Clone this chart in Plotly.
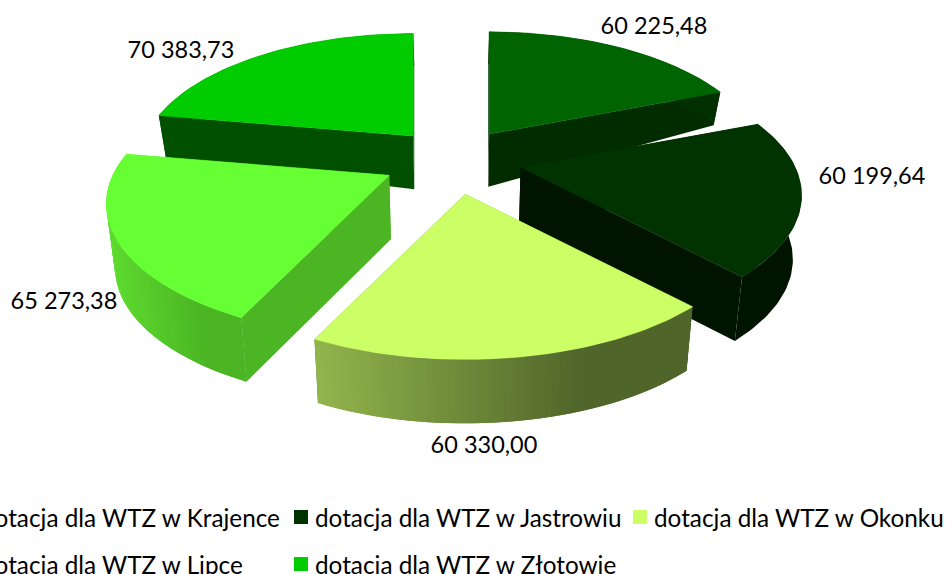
import numpy as np
import plotly.graph_objects as go

categories = ["dotacja dla WTZ w Krajence", "dotacja dla WTZ w Jastrowiu", "dotacja dla WTZ w Okonku",
              "dotacja dla WTZ w Lipce", "dotacja dla WTZ w Złotowie"]
values = [60225.48, 60199.64, 60330.00, 65273.38, 70383.73]
top_colors = ["#006400", "#003300", "#CCFF66", "#66FF33", "#00CC00"]
wall_left = ["#003000", "#001400", "#93B54D", "#5FDC30", "#005000"]
wall_right = ["#003000", "#001400", "#50652A", "#4BB524", "#005000"]
cut_colors = ["#002C00", "#001400", "#50652A", "#4BB524", "#005000"]
label_pos = [(654, 28), (872, 178), (484, 447), (64, 303), (181, 52)]
legend_pos = [(-19, 517), (315, 517), (654, 517), (-19, 564), (315, 564)]
pull_x = [0.92, 0.95, 1.0, 1.0, 0.93]
draw_order = [0, 4, 1, 3, 2]

W, H = 945, 574
CX, CY = 454, 160
R, K, P, PULL = 273, 126.0, 0.21, 0.26
DEPTH_MIX = 0.5
SHRINK = 0.975
SHADE_END = 0.72


def hexrgb(c):
    return np.array([int(c[i:i + 2], 16) for i in (1, 3, 5)], float)


def project(x, z, ez=0.0):
    s = 1 / (1 + P * (z + DEPTH_MIX * ez))
    return R * x * s, -K * z * s


def thick(z):
    return 64 - 32 * np.clip(z, 0, 0.6) / 0.6


def low(x):
    return CX + (x - CX) * SHRINK


fracs = np.array(values) / sum(values)
edges = np.concatenate([[0], np.cumsum(fracs)]) * 2 * np.pi
fig = go.Figure()


def poly(xs, ys, color, lw=0.0):
    fig.add_trace(go.Scatter(x=xs, y=ys, mode="lines", fill="toself", fillcolor=color,
                             line=dict(color=color, width=lw), hoverinfo="skip", showlegend=False))


for i in draw_order:
    a0, a1 = edges[i], edges[i + 1]
    mid = (a0 + a1) / 2
    ox, oy = project(PULL * np.sin(mid), PULL * np.cos(mid))
    ox *= pull_x[i]
    ez = PULL * np.cos(mid)
    ang = np.linspace(a0, a1, 61)
    rx, ry = project(np.sin(ang), np.cos(ang), ez)
    rx, ry = rx + CX + ox, ry + CY + oy
    rt = thick(np.cos(ang) + ez)
    bx = low(rx)
    ax, ay = CX + ox, CY + oy
    at = thick(ez)
    # cut faces
    poly([ax, rx[0], bx[0], low(ax)], [ay, ry[0], ry[0] + rt[0], ay + at], cut_colors[i])
    poly([ax, rx[-1], bx[-1], low(ax)], [ay, ry[-1], ry[-1] + rt[-1], ay + at], cut_colors[i])
    # outer wall, shaded left to right
    if wall_left[i] == wall_right[i]:
        poly(np.r_[rx, bx[::-1]], np.r_[ry, (ry + rt)[::-1]], wall_left[i])
    else:
        c0, c1 = hexrgb(wall_left[i]), hexrgb(wall_right[i])
        lo, hi = rx.min(), rx.max()
        for j in range(59, -1, -1):
            # each band runs over its neighbour, so no seam shows between bands
            m = max(j - 1, 0)
            f = min(((rx[j] + rx[j + 1]) / 2 - lo) / (hi - lo) / SHADE_END, 1)
            c = c0 + (c1 - c0) * f
            col = "#%02X%02X%02X" % tuple(int(v) for v in c)
            poly([rx[m], rx[j + 1], bx[j + 1], bx[m]],
                 [ry[m], ry[j + 1], ry[j + 1] + rt[j + 1], ry[m] + rt[m]], col)
    # top face
    poly(np.r_[ax, rx, ax], np.r_[ay, ry, ay], top_colors[i], 0.6)

fig.add_trace(go.Scatter(
    x=[p[0] for p in label_pos], y=[p[1] for p in label_pos], mode="text",
    text=[f"{v:,.2f}".replace(",", " ").replace(".", ",") for v in values],
    textfont=dict(family="Lato", size=23.5, color="#000000"), hoverinfo="skip", showlegend=False))

for i, name in enumerate(categories):
    lx, ly = legend_pos[i]
    fig.add_annotation(x=lx / W, y=1 - ly / H, xref="paper", yref="paper", text=name, showarrow=False,
                       xanchor="left", yanchor="middle", xshift=-2,
                       font=dict(family="Lato", size=24.3, color="#000000"))
    fig.add_trace(go.Scatter(x=[lx - 14], y=[ly], mode="markers", cliponaxis=False,
                             marker=dict(symbol="square", size=14, color=top_colors[i], line=dict(width=0)),
                             hoverinfo="skip", showlegend=False))

fig.update_layout(width=W, height=H, margin=dict(l=0, r=0, t=0, b=0), paper_bgcolor="white",
                  plot_bgcolor="white", showlegend=False,
                  xaxis=dict(range=[0, W], visible=False, fixedrange=True),
                  yaxis=dict(range=[H, 0], visible=False, fixedrange=True))
fig.write_html("out.html", config=dict(displayModeBar=False),
               post_script="document.body.style.margin='0';document.body.style.overflow='hidden';")
